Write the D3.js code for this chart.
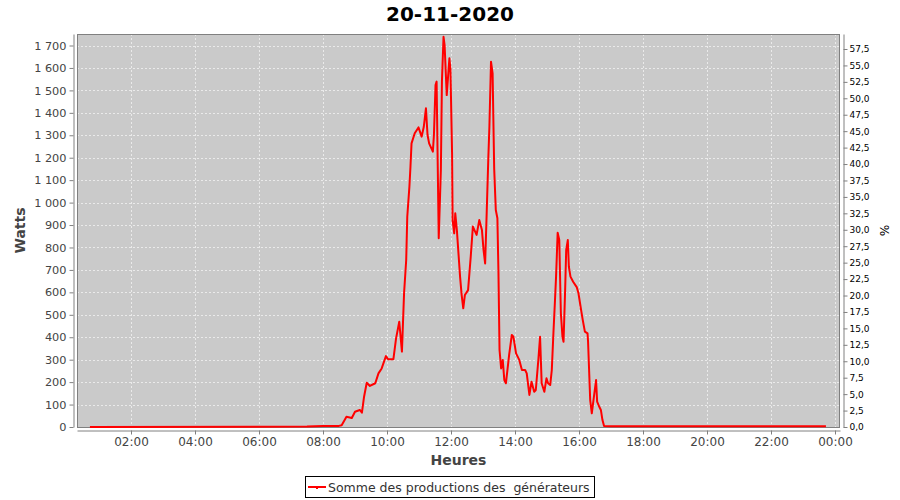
<!DOCTYPE html>
<html><head><meta charset="utf-8">
<script src="https://cdn.jsdelivr.net/npm/d3@7"></script>
<style>
body{margin:0;background:#fff}
svg{display:block}
text{font-family:"DejaVu Sans",sans-serif}
</style>
</head><body>
<svg id="c" width="900" height="500"></svg>
<script>
const chartTitle = "20-11-2020";
const seriesName = "Somme des productions des  générateurs";
const xLabel = "Heures";
const yLabel = "Watts";
const y2Label = "%";

const times = ["00:43","07:30","08:00","08:30","08:35","08:44","08:54","09:00","09:09","09:13","09:17","09:22","09:28","09:38","09:44","09:50","09:58","10:02","10:12","10:17","10:23","10:28","10:32","10:36","10:38","10:42","10:44","10:46","10:52","10:59","11:05","11:09","11:13","11:16","11:19","11:26","11:28","11:31","11:33","11:37","11:41","11:43","11:46","11:48","11:52","11:57","11:59","12:02","12:03","12:06","12:08","12:11","12:14","12:17","12:20","12:23","12:26","12:32","12:37","12:41","12:48","12:53","12:58","13:01","13:04","13:07","13:10","13:12","13:15","13:18","13:21","13:24","13:27","13:29","13:31","13:34","13:37","13:40","13:43","13:49","13:54","13:57","14:02","14:08","14:13","14:19","14:22","14:27","14:31","14:36","14:39","14:44","14:47","14:50","14:55","14:59","15:02","15:06","15:09","15:12","15:15","15:17","15:20","15:23","15:26","15:29","15:31","15:34","15:36","15:39","15:41","15:44","15:49","15:56","15:59","16:04","16:07","16:11","16:16","16:17","16:21","16:24","16:28","16:32","16:34","16:38","16:41","16:44","16:47","17:00","23:43"];
const watts = [0,2,5,5,8,46,40,68,76,64,135,197,183,195,239,261,316,302,302,395,469,336,596,744,937,1071,1160,1264,1309,1335,1294,1338,1420,1301,1264,1227,1301,1524,1539,841,1145,1539,1739,1702,1479,1643,1591,1220,922,863,952,878,774,670,588,529,588,610,759,893,856,922,878,789,729,960,1200,1338,1628,1576,1150,967,930,685,343,261,299,209,195,321,410,402,328,299,254,254,239,143,202,157,165,306,402,195,157,217,195,187,254,417,566,670,866,833,507,402,380,610,789,833,714,670,647,622,596,521,477,425,417,380,120,61,135,209,113,90,76,31,4,3,3];

const xTickHours = [2,4,6,8,10,12,14,16,18,20,22,24];
const wattTicks = [0,100,200,300,400,500,600,700,800,900,1000,1100,1200,1300,1400,1500,1600,1700];
const pctTicks = [0,2.5,5,7.5,10,12.5,15,17.5,20,22.5,25,27.5,30,32.5,35,37.5,40,42.5,45,47.5,50,52.5,55,57.5];

const toHours = s => { const [h,m] = s.split(":").map(Number); return h + m/60; };
const data = times.map((t,i) => ({h: toHours(t), w: watts[i]}));

const L = 77, R = 840, T = 34, B = 427;
const svg = d3.select("#c");
const loc = d3.formatLocale({decimal:",", thousands:"\u00a0", grouping:[3], currency:["","€"]});
const fW = loc.format(",d");
const fP = loc.format(".1f");
const fT = h => { const hh = Math.floor(h) % 24, mm = Math.round((h - Math.floor(h))*60); return String(hh).padStart(2,"0")+":"+String(mm).padStart(2,"0"); };

const x = d3.scaleLinear().domain([0.3125, 0.3125 + (R-L)/32]).range([L, R]);
const y = d3.scaleLinear().domain([0, 1751.3]).range([B, T]);
const y2 = d3.scaleLinear().domain([0, 59.78]).range([B, T]);

// plot background
svg.append("rect").attr("x", L).attr("y", T).attr("width", R-L).attr("height", B-T).attr("fill", "#cacaca");

// grid
const grid = svg.append("g").attr("stroke", "#fff").attr("stroke-width", 0.6).attr("stroke-dasharray", "2,2");
grid.selectAll("line.v").data(xTickHours).join("line").attr("class","v")
  .attr("x1", d => Math.round(x(d))+0.5).attr("x2", d => Math.round(x(d))+0.5).attr("y1", T).attr("y2", B);
grid.selectAll("line.h").data(wattTicks.filter(d => d > 0)).join("line").attr("class","h")
  .attr("y1", d => Math.round(y(d))+0.5).attr("y2", d => Math.round(y(d))+0.5).attr("x1", L).attr("x2", R);

// plot outline
svg.append("rect").attr("x", L+0.5).attr("y", T+0.5).attr("width", R-L-1).attr("height", B-T).attr("fill", "none").attr("stroke", "#808080");

// axes
function styleAxis(g, color, size) {
  g.select(".domain").attr("stroke", "#808080");
  g.selectAll(".tick line").attr("stroke", "#808080");
  g.selectAll(".tick text").attr("fill", color).style("font-size", size + "px").style("font-family", '"DejaVu Sans",sans-serif');
}
const gL = svg.append("g").attr("transform", "translate(73.5,0)")
  .call(d3.axisLeft(y).tickValues(wattTicks).tickFormat(fW).tickSize(4).tickSizeOuter(0).tickPadding(3));
styleAxis(gL, "#444", 11.3);
const gB = svg.append("g").attr("transform", "translate(0,430.5)")
  .call(d3.axisBottom(x).tickValues(xTickHours).tickFormat(fT).tickSize(4).tickSizeOuter(0).tickPadding(3));
styleAxis(gB, "#444", 12);
const gR = svg.append("g").attr("transform", "translate(843.5,0)")
  .call(d3.axisRight(y2).tickValues(pctTicks).tickFormat(fP).tickSize(4).tickSizeOuter(0).tickPadding(2));
styleAxis(gR, "#000", 9);

// line
svg.append("path").datum(data)
  .attr("fill", "none").attr("stroke", "#ff0000").attr("stroke-width", 2).attr("stroke-linejoin", "round")
  .attr("d", d3.line().x(d => x(d.h)).y(d => y(d.w)));

// title and labels
svg.append("text").attr("x", 450).attr("y", 21).attr("text-anchor", "middle")
  .style("font-size", "20px").style("font-weight", "bold").attr("fill", "#000").text(chartTitle);
svg.append("text").attr("x", (L+R)/2).attr("y", 465).attr("text-anchor", "middle")
  .style("font-size", "14px").style("font-weight", "bold").attr("fill", "#444").text(xLabel);
svg.append("text").attr("transform", `translate(25,${(T+B)/2}) rotate(-90)`).attr("text-anchor", "middle")
  .style("font-size", "14px").style("font-weight", "bold").attr("fill", "#444").text(yLabel);
svg.append("text").attr("transform", `translate(880,${(T+B)/2}) rotate(90)`).attr("text-anchor", "middle")
  .style("font-size", "12px").attr("fill", "#000").text(y2Label);

// legend
const lg = svg.append("g");
lg.append("rect").attr("x", 305.5).attr("y", 476.5).attr("width", 289).attr("height", 21).attr("fill", "#fff").attr("stroke", "#000");
lg.append("line").attr("x1", 308).attr("x2", 326).attr("y1", 487).attr("y2", 487).attr("stroke", "#ff0000").attr("stroke-width", 2);
lg.append("rect").attr("x", 316).attr("y", 487).attr("width", 2).attr("height", 2).attr("fill", "#ff0000");
lg.append("text").attr("x", 328).attr("y", 491.5).style("font-size", "12.5px").attr("fill", "#333").attr("xml:space","preserve").style("white-space","pre").text(seriesName);
</script>
</body></html>
